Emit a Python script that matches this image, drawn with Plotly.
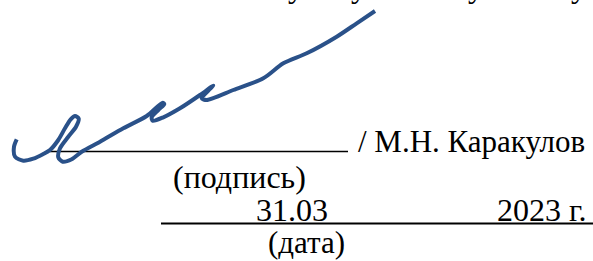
import plotly.graph_objects as go

W, H = 593, 261

# signature stroke (pixel coords of the picture)
sig_x = [16.7, 14, 15, 23.3, 33.3, 43.3, 50, 58.3, 65, 70.7, 75, 78.7, 76, 68.3, 60, 58.3, 62.7, 71.7,
         81.7, 100, 123.3, 146.7, 162.7, 164.3, 158.3, 151.7, 152.7, 163.3, 180, 200, 213.3, 210, 201.7,
         206.7, 233.3, 263.3, 283.3, 306.7, 336.7, 356.7, 375]
sig_y = [139.3, 146.7, 156.7, 160.7, 158.7, 154, 150, 140, 128.3, 119.3, 116, 118.7, 126.7, 136.7, 148.3,
         157.3, 161.7, 159.3, 151.7, 141.7, 128.3, 116, 102.7, 104, 110, 117.3, 120.7, 117.3, 108.3, 95,
         85.5, 89, 98.3, 100, 90, 78.3, 63.3, 53.3, 36.7, 23.3, 11]

# rule lines: (x0, x1, y, width)
rule_x0 = [50, 161]
rule_x1 = [348, 593]
rule_y = [151.5, 223.5]
rule_w = [1.5, 2.2]

# text items
texts = ["/ М.Н. Каракулов", "(подпись)", "31.03", "2023 г.", "(дата)"]
text_x = [357, 239, 255, 496, 306]
text_base = [152, 188, 221, 221, 253]
text_anchor = ["left", "center", "left", "left", "center"]
text_size = [31, 32, 32, 32, 31]

# descenders of the line above (cut off at the top edge)
top_chars = ["у", "у", "у", "у"]
top_x = [296, 359, 476, 579]
top_base = -3

FONT = "Liberation Serif"
SHIFT = -8.0

fig = go.Figure()
for x0, x1, y, w in zip(rule_x0, rule_x1, rule_y, rule_w):
    fig.add_trace(go.Scatter(x=[x0, x1], y=[y, y], mode="lines",
                             line=dict(color="black", width=w), hoverinfo="skip"))

fig.add_trace(go.Scatter(x=sig_x, y=sig_y, mode="lines",
                         line=dict(color="#2a5189", width=4, shape="spline", smoothing=0.8),
                         hoverinfo="skip"))

annos = []
for t, x, b, a, s in zip(texts, text_x, text_base, text_anchor, text_size):
    annos.append(dict(text=t, x=x, y=b, xref="x", yref="y",
                      xanchor=a, yanchor="bottom", showarrow=False, borderpad=0,
                      yshift=SHIFT,
                      font=dict(family=FONT, size=s, color="black")))
for t, x in zip(top_chars, top_x):
    annos.append(dict(text=t, x=x / W, y=1 - top_base / H, xref="paper", yref="paper",
                      xanchor="center", yanchor="bottom", showarrow=False, borderpad=0,
                      yshift=SHIFT,
                      font=dict(family=FONT, size=32, color="black")))

fig.update_layout(
    width=W, height=H, margin=dict(l=0, r=0, t=0, b=0),
    font=dict(family=FONT, size=32, color="black"),
    paper_bgcolor="white", plot_bgcolor="white", showlegend=False,
    xaxis=dict(range=[0, W], visible=False, fixedrange=True),
    yaxis=dict(range=[H, 0], visible=False, fixedrange=True),
    annotations=annos,
)
fig.write_html("out.html", config={"displayModeBar": False},
               post_script="document.body.style.margin='0';document.body.style.overflow='hidden';")
